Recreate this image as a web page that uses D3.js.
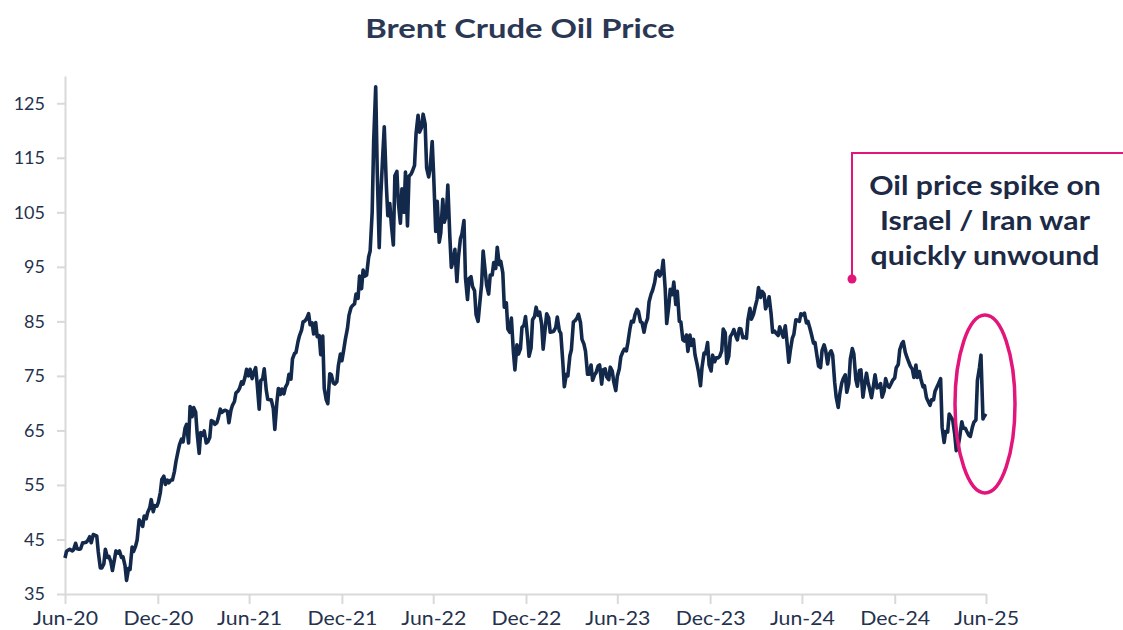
<!DOCTYPE html>
<html>
<head>
<meta charset="utf-8">
<script src="https://cdn.jsdelivr.net/npm/d3@7"></script>
<style>
  body { margin: 0; background: #fff; }
  svg text { font-family: Lato, "Liberation Sans", sans-serif; }
</style>
</head>
<body>
<svg id="chart" width="1123" height="630"></svg>
<script>
// Brent crude, $/bbl, read every Tuesday and Friday (one line per month)
var prices2020 = [
  41.6,
  42.8, 43.1, 43.2, 42.9, 43.1, 44.3, 43.3, 43.2, 43.3,
  44.4, 44.4, 44.5, 44.8, 45.5, 44.4, 45.9, 45.8,
  45.6, 42.7, 39.8, 39.8, 40.5, 43.2, 41.7, 41.9, 40.9,
  39.3, 41.3, 42.9, 42.5, 42.9, 41.7, 41.8, 40.2, 37.5,
  39.7, 39.5, 43.6, 42.8, 43.8, 44.9, 48.6, 48.2,
  47.4, 49.3, 48.8, 50.0, 50.8, 52.3, 50.1, 51.2, 51.1
];
var prices2021 = [
  51.8, 53.6, 56.0, 56.6, 55.1, 55.9, 55.4, 55.9, 55.9,
  57.5, 59.3, 61.1, 62.4, 63.4, 62.9, 65.4, 66.1,
  62.7, 69.4, 67.5, 69.2, 68.4, 64.5, 60.8, 64.6, 64.1,
  64.9, 62.7, 62.9, 63.7, 66.8, 66.6, 66.1, 66.4, 67.3,
  68.9, 68.3, 68.6, 68.7, 68.5, 66.4, 68.7, 69.6,
  70.3, 71.9, 72.2, 72.7, 73.9, 73.5, 74.8, 76.2, 75.0,
  76.2, 74.5, 75.6, 76.5, 73.6, 68.9, 74.1, 74.5, 76.3,
  72.4, 70.7, 70.6, 70.6, 69.0, 65.2, 70.1, 72.7, 71.6,
  72.6, 71.7, 72.9, 73.6, 75.3, 74.4, 78.1, 79.1,
  79.3, 81.3, 82.4, 83.4, 84.9, 85.1, 85.5, 86.4, 84.4,
  84.7, 82.7, 84.8, 82.2, 82.4, 78.9, 82.3, 72.7, 70.6,
  69.9, 75.4, 75.2, 73.7, 73.5, 73.9, 76.9, 79.0, 77.8
];
var prices2022 = [
  80.0, 81.8, 83.7, 86.1, 87.5, 87.9, 88.2, 90.0,
  89.2, 93.3, 91.0, 94.4, 93.3, 93.5, 96.8, 97.9,
  105.0, 118.1, 128.0, 112.7, 98.5, 107.9, 115.5, 120.7, 110.2,
  104.4, 106.6, 102.8, 99.0, 111.7, 112.5, 106.7, 103.0, 109.3,
  105.0, 112.4, 102.5, 111.6, 112.0, 112.6, 113.6, 119.4, 122.8,
  119.7, 120.6, 123.0, 121.2, 113.1, 111.5, 113.1, 118.0,
  111.6, 101.5, 107.0, 99.5, 101.2, 107.4, 103.2, 104.4, 110.0,
  100.5, 94.9, 96.3, 98.2, 92.3, 96.7, 100.2, 101.0, 103.5,
  93.0, 89.0, 92.8, 93.2, 91.4, 90.6, 86.2, 85.0, 88.0,
  91.8, 97.9, 94.3, 91.6, 90.0, 93.5, 93.5, 95.8,
  94.7, 98.6, 95.4, 96.0, 93.9, 87.6, 88.4, 83.6, 83.0,
  85.6, 79.4, 76.1, 80.7, 79.0, 80.0, 83.9, 84.3, 85.9
];
var prices2023 = [
  82.1, 78.6, 80.1, 85.3, 85.9, 87.6, 86.1, 86.7, 84.5,
  79.9, 83.7, 86.4, 85.6, 83.0, 83.1, 83.2, 83.9,
  85.8, 83.3, 82.8, 77.5, 73.0, 75.3, 75.0, 78.7, 79.8,
  84.9, 85.1, 85.6, 86.3, 84.8, 81.7, 80.8, 79.5,
  75.3, 75.3, 77.0, 74.2, 75.2, 75.6, 76.8, 77.0, 73.5,
  76.1, 76.3, 74.8, 74.3, 76.6, 75.9, 73.9, 72.3, 74.9,
  76.3, 78.5, 79.4, 79.9, 79.6, 81.1, 83.6, 85.0,
  84.9, 86.2, 87.2, 86.8, 84.9, 84.8, 83.0, 84.5, 85.5,
  88.6, 90.0, 90.7, 92.1, 93.9, 94.3, 93.3, 94.0, 96.2,
  90.9, 84.6, 87.7, 90.9, 89.9, 92.2, 88.1, 90.5, 85.0,
  84.9, 81.6, 81.4, 82.5, 79.5, 82.5, 80.6, 81.7,
  78.9, 77.2, 75.8, 73.2, 76.6, 79.2, 79.1, 81.1, 77.0
];
var prices2024 = [
  75.9, 78.8, 77.6, 78.3, 78.3, 78.6, 79.6, 83.6, 82.9,
  77.3, 78.6, 82.2, 82.8, 83.5, 82.3, 81.6, 83.7,
  83.6, 82.0, 82.1, 81.9, 85.3, 87.4, 85.4, 86.3, 87.5,
  89.0, 91.2, 89.4, 90.5, 90.0, 87.3, 88.4, 89.5, 86.3,
  83.0, 83.2, 82.8, 82.4, 84.0, 82.9, 82.1, 84.2, 81.6,
  77.5, 79.6, 81.9, 82.6, 85.3, 85.2, 85.0, 86.4,
  86.2, 86.5, 84.7, 85.0, 83.7, 82.6, 81.0, 81.1, 78.6,
  76.8, 76.5, 79.7, 80.7, 79.7, 77.2, 79.0, 79.6, 78.8,
  73.8, 71.1, 69.2, 71.6, 73.7, 74.5, 75.2, 72.0,
  73.6, 78.1, 80.0, 79.0, 74.3, 73.1, 76.0, 76.1, 71.1,
  73.1, 75.5, 73.9, 72.3, 71.0, 73.3, 75.2, 72.8, 72.9,
  73.6, 71.1, 72.2, 74.5, 73.2, 72.9, 73.6, 74.2, 74.6
];
var prices2025 = [
  76.5, 77.1, 79.8, 80.9, 81.3, 79.3, 78.5, 77.5, 76.8,
  76.2, 74.7, 77.0, 74.7, 75.8, 74.4, 73.0, 73.2,
  71.0, 70.4, 69.6, 70.6, 70.6, 72.2, 73.0, 73.6,
  74.5, 65.6, 62.8, 64.8, 64.7, 68.0, 67.4, 66.9, 64.3,
  61.3, 62.2, 63.9, 66.6, 65.4, 65.4, 64.8, 64.1, 63.9,
  65.6, 66.5, 66.9, 74.2, 76.5, 78.8, 67.1, 67.8,
  67.6
];
var years = [2020, 2021, 2022, 2023, 2024, 2025];
var pricesByYear = [prices2020, prices2021, prices2022, prices2023, prices2024, prices2025];

var yTicks = [35, 45, 55, 65, 75, 85, 95, 105, 115, 125];
var xTickDates = ['2020-06-30', '2020-12-31', '2021-06-30', '2021-12-31', '2022-06-30',
  '2022-12-31', '2023-06-30', '2023-12-31', '2024-06-30', '2024-12-31', '2025-06-30'];
var xTickLabels = ['Jun-20', 'Dec-20', 'Jun-21', 'Dec-21', 'Jun-22',
  'Dec-22', 'Jun-23', 'Dec-23', 'Jun-24', 'Dec-24', 'Jun-25'];
var noteLines = ['Oil price spike on', 'Israel / Iran war', 'quickly unwound'];

var parseDay = d3.timeParse('%Y-%m-%d');

// Tuesdays and Fridays of a year, within the charted period
function sampleDays(year) {
  var from = year === 2020 ? new Date(2020, 5, 30) : new Date(year, 0, 1);
  var to = year === 2025 ? new Date(2025, 6, 2) : new Date(year + 1, 0, 1);
  return d3.timeDay.range(from, to).filter(function(d) {
    return d.getDay() === 2 || d.getDay() === 5;
  });
}

var series = [];
years.forEach(function(year, i) {
  var days = sampleDays(year);
  var vals = pricesByYear[i];
  if (days.length !== vals.length) console.log('count mismatch', year, days.length, vals.length);
  for (var k = 0; k < Math.min(days.length, vals.length); k++) {
    series.push({date: days[k], value: vals[k]});
  }
});

var svg = d3.select('#chart');
var navy = '#13294b';
var pink = '#e2157a';
var textCol = '#25324d';

// the source picture is a little stretched sideways
function widen(sel, k) {
  sel.each(function() {
    var w = this.getComputedTextLength();
    d3.select(this).attr('textLength', w * k).attr('lengthAdjust', 'spacingAndGlyphs');
  });
}

var x = d3.scaleTime()
  .domain([new Date(2020, 5, 30), new Date(2025, 5, 30)])
  .range([65, 986]);
var y = d3.scaleLinear()
  .domain([35, 130])
  .range([594, 76]);

svg.append('text')
  .attr('x', 520)
  .attr('y', 38)
  .attr('text-anchor', 'middle')
  .style('font-size', '26px')
  .style('font-weight', 'bold')
  .style('fill', '#2b3854')
  .text('Brent Crude Oil Price')
  .call(widen, 1.26);

var xAxis = d3.axisBottom(x)
  .tickValues(xTickDates.map(parseDay))
  .tickFormat(function(d, i) { return xTickLabels[i]; })
  .tickSize(10)
  .tickSizeOuter(0)
  .tickPadding(8);
var yAxis = d3.axisLeft(y)
  .tickValues(yTicks)
  .tickSize(8)
  .tickSizeOuter(0)
  .tickPadding(12);

var gx = svg.append('g').attr('transform', 'translate(0,594)').call(xAxis);
var gy = svg.append('g').attr('transform', 'translate(65,0)').call(yAxis);

[gx, gy].forEach(function(g) {
  g.select('.domain').attr('stroke', '#d9d9d9').attr('stroke-width', 2);
  g.selectAll('.tick line').attr('stroke', '#d9d9d9').attr('stroke-width', 2);
  g.selectAll('.tick text')
    .style('font-size', '18px')
    .style('font-family', 'Lato, sans-serif')
    .attr('fill', textCol);
});
gx.selectAll('.tick text').style('font-size', '19px').call(widen, 1.12);

var line = d3.line()
  .x(function(d) { return x(d.date); })
  .y(function(d) { return y(d.value); });

svg.append('path')
  .datum(series)
  .attr('d', line)
  .attr('fill', 'none')
  .attr('stroke', navy)
  .attr('stroke-width', 3.6)
  .attr('stroke-linejoin', 'round');

// annotation
svg.append('ellipse')
  .attr('cx', 985)
  .attr('cy', 404)
  .attr('rx', 30)
  .attr('ry', 89)
  .attr('fill', 'none')
  .attr('stroke', pink)
  .attr('stroke-width', 3.5);

svg.append('path')
  .attr('d', 'M852,279 V153 H1123')
  .attr('fill', 'none')
  .attr('stroke', pink)
  .attr('stroke-width', 2);
svg.append('circle')
  .attr('cx', 852)
  .attr('cy', 279)
  .attr('r', 4.5)
  .attr('fill', pink);

svg.append('g')
  .selectAll('text')
  .data(noteLines)
  .enter()
  .append('text')
  .attr('x', 985)
  .attr('y', function(d, i) { return 195 + i * 35; })
  .attr('text-anchor', 'middle')
  .style('font-size', '26px')
  .style('font-weight', 'bold')
  .style('fill', '#1c2a45')
  .text(function(d) { return d; })
  .call(widen, 1.16);
</script>
</body>
</html>
